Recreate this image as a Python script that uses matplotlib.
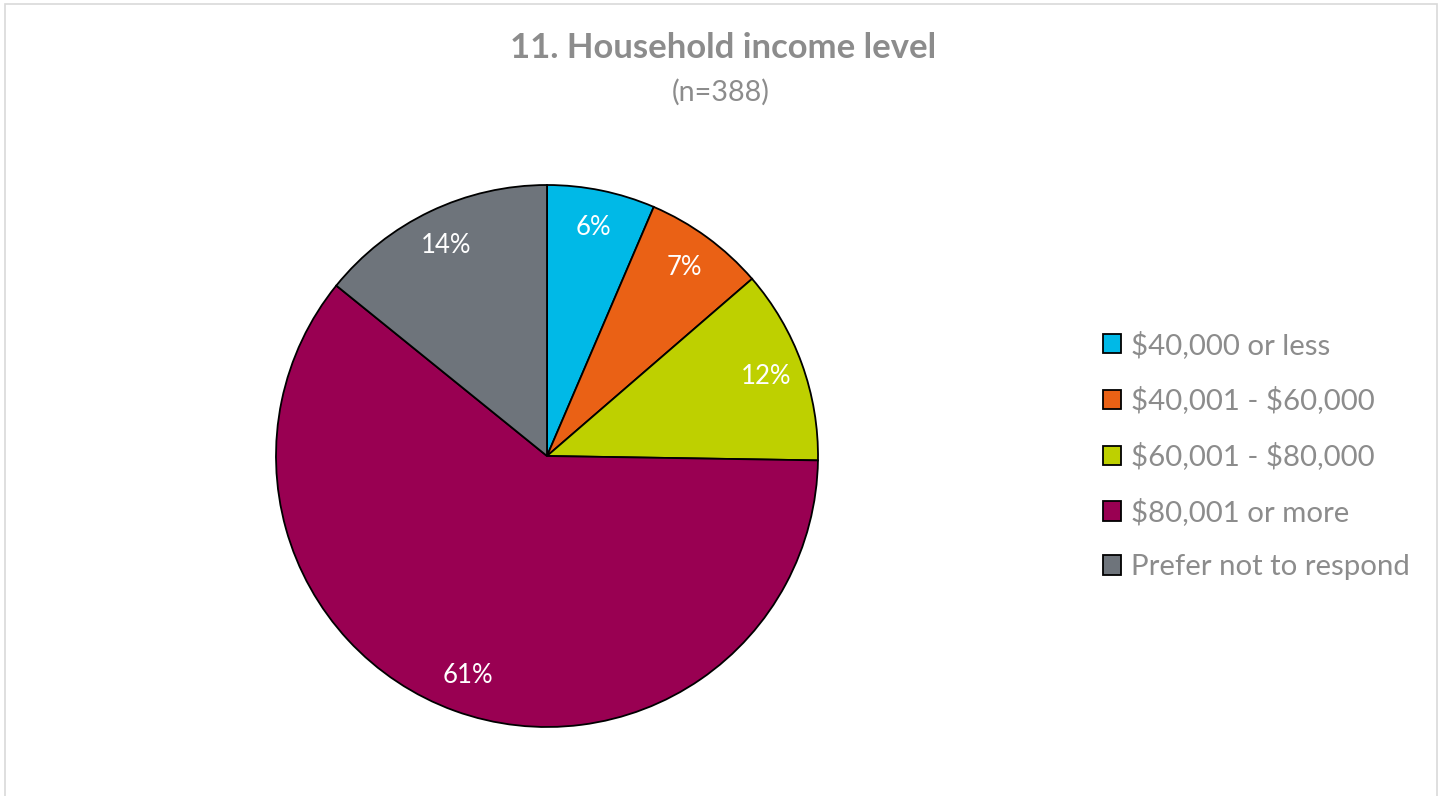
import matplotlib
matplotlib.use("Agg")
import matplotlib.pyplot as plt
from matplotlib.patches import Rectangle

# Survey responses (n=388)
categories = ["$40,000 or less", "$40,001 - $60,000", "$60,001 - $80,000",
              "$80,001 or more", "Prefer not to respond"]
counts = [25, 28, 45, 235, 55]
colors = ["#00B9E7", "#EA6115", "#BED000", "#990052", "#6E747B"]

title = "11. Household income level"
subtitle = "(n=388)"

plt.rcParams["text.parse_math"] = False
plt.rcParams["font.family"] = ["Lato", "DejaVu Sans"]

W, H = 1442, 796
fig = plt.figure(figsize=(W / 100, H / 100), dpi=100)
text_gray = "#8C8C8C"

# light outer frame
fig.patches.append(Rectangle((5 / W, -0.01), (1437 - 5) / W, 1.01 - 4 / H,
                             transform=fig.transFigure, fill=False,
                             edgecolor="#D9D9D9", linewidth=1.2))

cx, cy, r = 547, 456, 271
ax = fig.add_axes([(cx - r) / W, (H - cy - r) / H, 2 * r / W, 2 * r / H])

wedges, _, autotexts = ax.pie(
    counts, colors=colors, startangle=90, counterclock=False,
    autopct=lambda p: f"{p:.0f}%", pctdistance=0.86,
    wedgeprops=dict(edgecolor="black", linewidth=1.3),
    textprops=dict(color="white", fontsize=18.5))
ax.set_xlim(-1, 1)
ax.set_ylim(-1, 1)
ax.set_aspect("equal")

fig.text(723 / W, 1 - 48 / H, title, ha="center", va="center",
         fontsize=24.9, fontweight="bold", color=text_gray)
fig.text(721 / W, 1 - 92 / H, subtitle, ha="center", va="center",
         fontsize=20.7, color=text_gray)

leg = ax.legend(wedges, categories, loc="center left",
                bbox_to_anchor=(1103 / W, 1 - 455.5 / H),
                bbox_transform=fig.transFigure, frameon=False,
                fontsize=21.2, borderpad=0, borderaxespad=0,
                handlelength=0.62, handleheight=0.62, handletextpad=0.33,
                labelspacing=0.95)
for t in leg.get_texts():
    t.set_color(text_gray)

fig.savefig("out.png", dpi=100)
